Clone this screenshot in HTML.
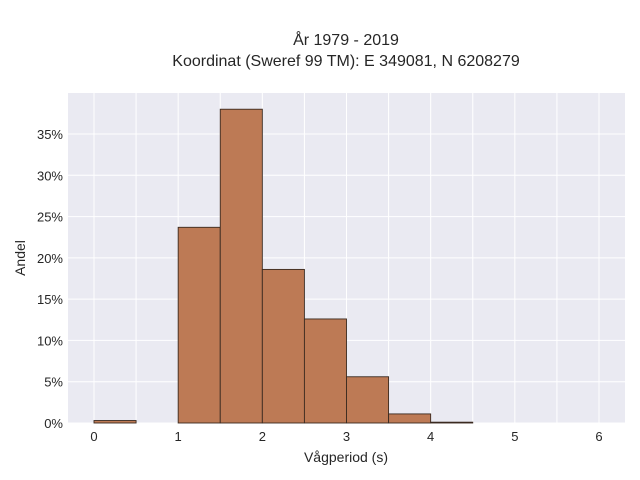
<!DOCTYPE html>
<html><head><meta charset="utf-8"><style>
body{margin:0;background:#fff;}
svg{display:block;font-family:"Liberation Sans",sans-serif;}
</style></head><body>
<svg id="chart" width="640" height="480" viewBox="0 0 640 480">
<text x="346" y="45" text-anchor="middle" font-size="16" fill="#262626">År 1979 - 2019</text>
<text x="346" y="66" text-anchor="middle" font-size="16" fill="#262626">Koordinat (Sweref 99 TM): E 349081, N 6208279</text>
<rect x="68" y="93" width="557" height="330" fill="#eaeaf2"/>
<g id="grid"></g>
<g id="bars"></g>
<g id="xticks"></g>
<g id="yticks"></g>
<text x="346" y="462" text-anchor="middle" font-size="14" fill="#262626">Vågperiod (s)</text>
<text transform="translate(25,258) rotate(-90)" text-anchor="middle" font-size="14" fill="#262626">Andel</text>
</svg>
<script>
const binStarts=[0,0.5,1,1.5,2,2.5,3,3.5,4];
const shares=[0.3,0,23.7,38.0,18.6,12.6,5.6,1.1,0.1];
const xTicks=[0,1,2,3,4,5,6];
const yTicks=[0,5,10,15,20,25,30,35];
const binWidth=0.5;
const NS="http://www.w3.org/2000/svg";
const X=v=>94+v*(599-94)/6;
const Y=p=>423-p*(423-134)/35;
const grid=document.getElementById('grid'),bars=document.getElementById('bars'),xt=document.getElementById('xticks'),yt=document.getElementById('yticks');
function mk(tag,attrs,parent){const e=document.createElementNS(NS,tag);for(const k in attrs)e.setAttribute(k,attrs[k]);parent.appendChild(e);return e;}
for(let v=-0.5;v<=6.5;v+=0.5){const x=X(v);if(x<68||x>625)continue;
 const l=mk('line',{x1:x,x2:x,y1:93,y2:423,stroke:'#fff','stroke-width':1},grid);
 
 }
yTicks.forEach(p=>{const y=Y(p);
 const l=mk('line',{x1:68,x2:625,y1:y,y2:y,stroke:'#fff','stroke-width':1},grid);
 
 
 const t=mk('text',{x:63,y:y+5,'text-anchor':'end','font-size':13,fill:'#262626'},yt);
 t.textContent=p+'%';
 
 });
xTicks.forEach(v=>{
 const t=mk('text',{x:X(v),y:441,'text-anchor':'middle','font-size':13,fill:'#262626'},xt);
 t.textContent=v;
 
 });
binStarts.forEach((b,i)=>{if(shares[i]<=0)return;
 const x0=X(b),x1=X(b+binWidth),y=Y(shares[i]);
 const r=mk('rect',{x:x0,y:y,width:x1-x0,height:423-y,fill:'#bd7a55',stroke:'#3a2a20','stroke-width':0.9},bars);
 
 });
</script>
</body></html>
